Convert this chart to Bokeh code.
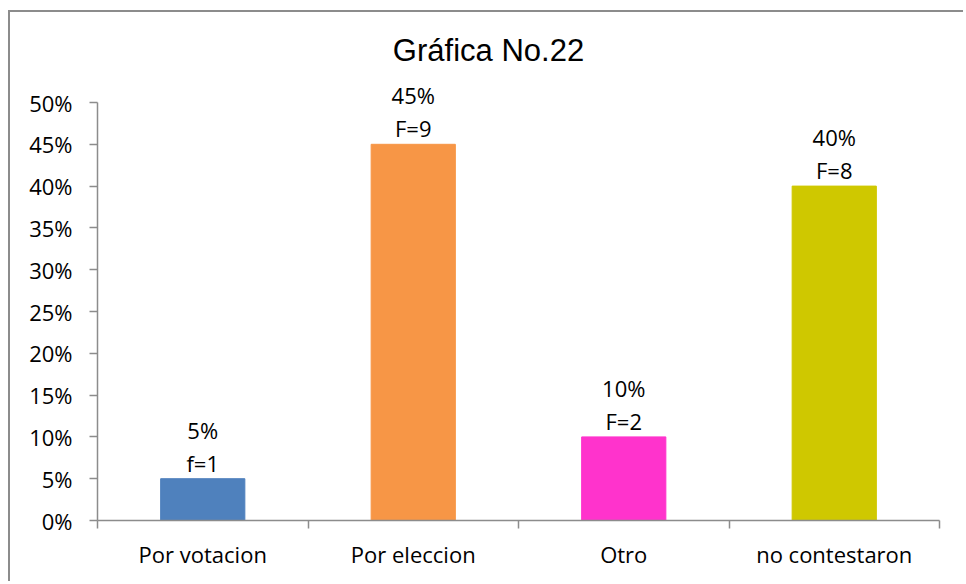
import numpy as np
from bokeh.plotting import figure
from bokeh.models import (FixedTicker, NumeralTickFormatter, ColumnDataSource,
                          Label, LabelSet, Range1d, LinearAxis)
from bokeh.core.properties import value
from bokeh.embed import file_html
from bokeh.resources import INLINE

# ---- data ----
categories = ["Por votacion", "Por eleccion", "Otro", "no contestaron"]
percents = [0.05, 0.45, 0.10, 0.40]
pct_labels = ["5%", "45%", "10%", "40%"]
freq_labels = ["f=1", "F=9", "F=2", "F=8"]
colors = ["#4F81BD", "#F79646", "#FF33CC", "#CFC800"]
y_ticks = [0.0, 0.05, 0.10, 0.15, 0.20, 0.25, 0.30, 0.35, 0.40, 0.45, 0.50]
title_text = "Gráfica No.22"

GRAY = "#8c8c8c"
FONT = "Open Sans"

# layout (pixels)
CANVAS_W, CANVAS_H = 955, 571
BORDER_L, BORDER_R, BORDER_B = 87, 26, 63
AXIS_TOP_PX = 90          # where 50% sits, measured from canvas top
frame_h = CANVAS_H - BORDER_B
y_top = y_ticks[-1] * frame_h / (frame_h - AXIS_TOP_PX)   # frame reaches canvas top so nothing is clipped

xc = [i + 0.5 for i in range(len(categories))]
src = ColumnDataSource(dict(x=xc, top=percents, pct=pct_labels, freq=freq_labels, color=colors))

p = figure(width=CANVAS_W, height=CANVAS_H, output_backend="svg", toolbar_location=None,
           x_range=Range1d(0, len(categories)), y_range=Range1d(0, y_top),
           min_border_left=BORDER_L, min_border_right=BORDER_R, min_border_top=0,
           min_border_bottom=BORDER_B, x_axis_type=None, y_axis_type=None)
p.margin = (10, 0, 0, 8)
p.styles = {"border-left": f"2px solid {GRAY}", "border-top": f"2px solid {GRAY}"}
p.outline_line_color = None
p.background_fill_color = "white"
p.border_fill_color = "white"

p.vbar(x="x", top="top", bottom=0, width=0.4, color="color", source=src)

# y axis
yax = LinearAxis(ticker=FixedTicker(ticks=y_ticks, minor_ticks=[]),
                 formatter=NumeralTickFormatter(format="0%"), bounds=(0, y_ticks[-1]))
yax.axis_line_color = GRAY
yax.axis_line_width = 1.5
yax.major_tick_line_color = GRAY
yax.major_tick_line_width = 1.5
yax.major_tick_out = 8
yax.major_tick_in = 0
yax.minor_tick_line_color = None
yax.major_label_standoff = 17
yax.major_label_text_font = FONT
yax.major_label_text_font_size = "22px"
yax.major_label_text_color = "black"
p.add_layout(yax, "left")

# x axis: labels at centres, ticks at category boundaries
xax = LinearAxis(ticker=FixedTicker(ticks=xc, minor_ticks=list(range(len(categories) + 1))))
xax.major_label_overrides = {x: c for x, c in zip(xc, categories)}
xax.axis_line_color = GRAY
xax.axis_line_width = 1.5
xax.major_tick_line_color = None
xax.major_tick_out = 0
xax.major_tick_in = 0
xax.minor_tick_line_color = GRAY
xax.minor_tick_line_width = 1.5
xax.minor_tick_out = 8
xax.minor_tick_in = 0
xax.major_label_standoff = 10
xax.major_label_text_font = FONT
xax.major_label_text_font_size = "22px"
xax.major_label_text_color = "black"
p.add_layout(xax, "below")

p.xgrid.visible = False
p.ygrid.ticker = FixedTicker(ticks=y_ticks)
p.ygrid.grid_line_color = GRAY
p.ygrid.grid_line_width = 1.5

# data labels
p.add_layout(LabelSet(x="x", y="top", text="freq", source=src, y_offset=16,
                      text_align="center", text_baseline="middle",
                      text_font=value(FONT), text_font_size=value("22px"), text_color="black"))
p.add_layout(LabelSet(x="x", y="top", text="pct", source=src, y_offset=49,
                      text_align="center", text_baseline="middle",
                      text_font=value(FONT), text_font_size=value("22px"), text_color="black"))

# title (screen units are relative to the frame's lower-left corner)
p.add_layout(Label(x=391, y=470, x_units="screen", y_units="screen", text=title_text,
                   text_align="center", text_baseline="middle",
                   text_font="Liberation Sans", text_font_size="31px", text_color="black"))

open("out.html", "w").write(file_html(p, INLINE))
